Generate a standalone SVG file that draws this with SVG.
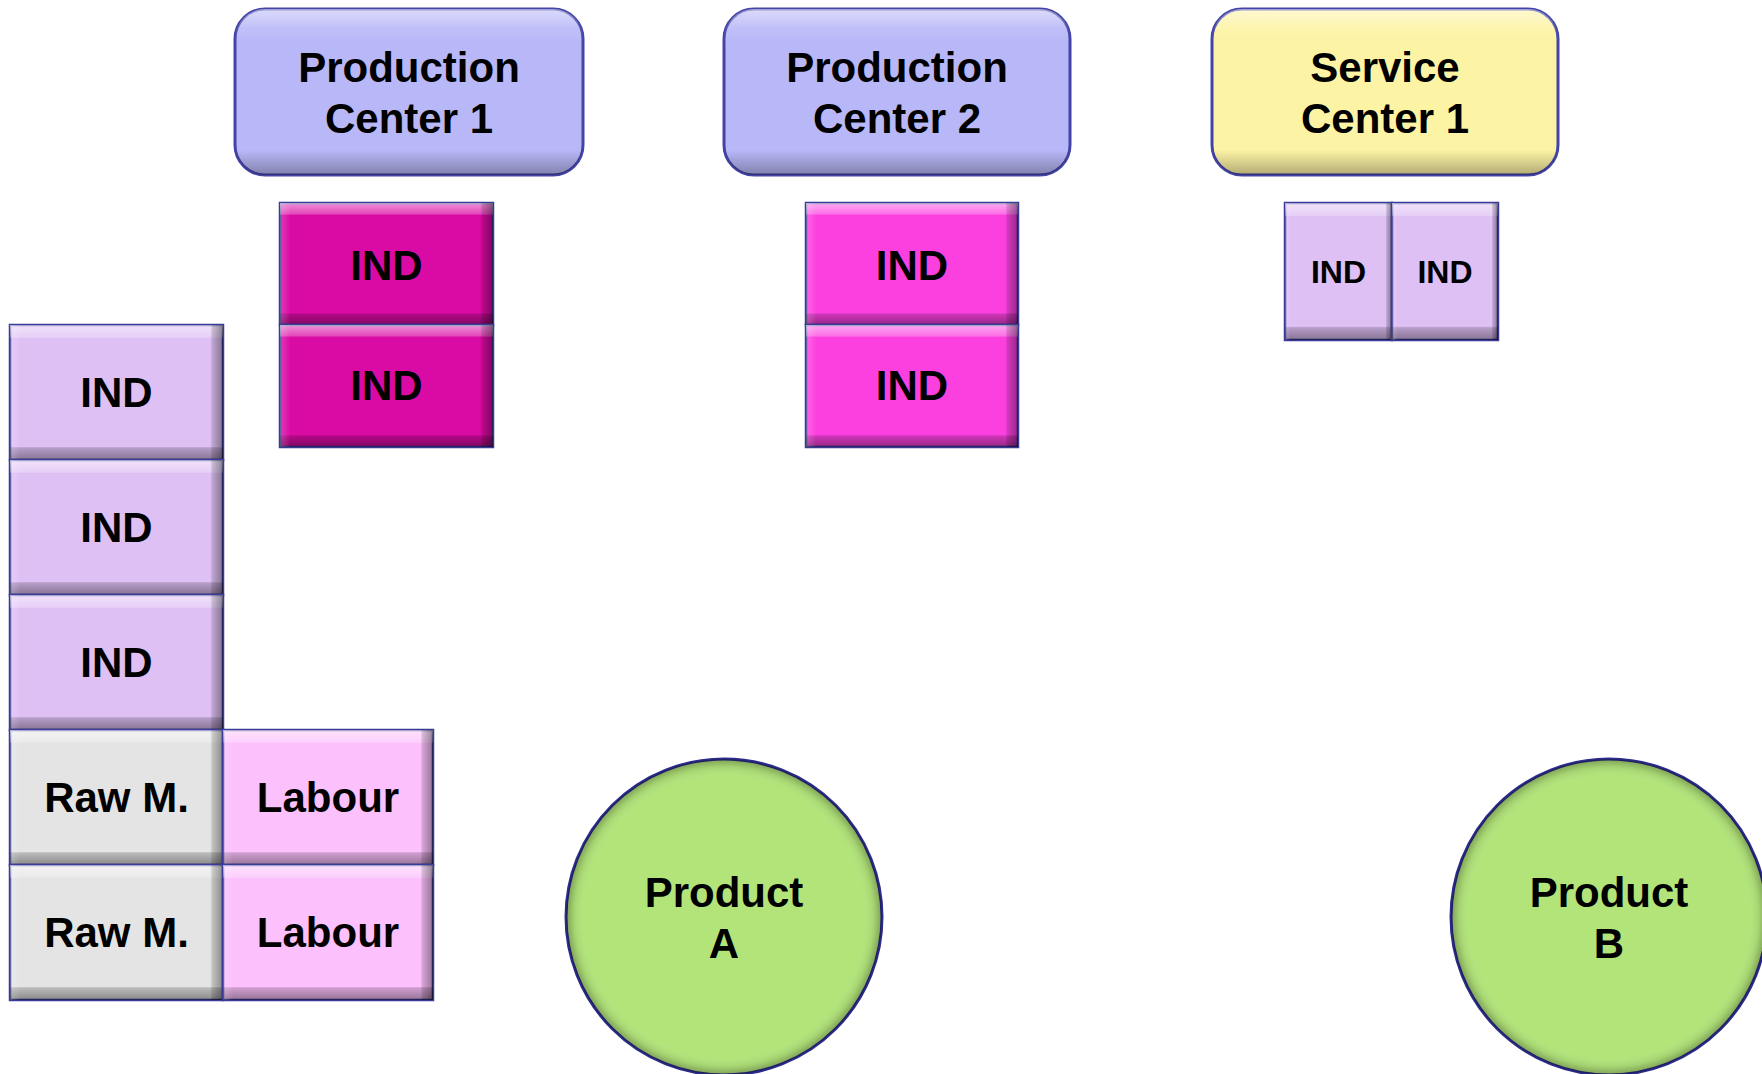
<svg xmlns="http://www.w3.org/2000/svg" width="1762" height="1074" viewBox="0 0 1762 1074">
<style>
.t{font-family:"Liberation Sans",Arial,sans-serif;font-weight:bold;fill:#000;text-anchor:middle}
.big{font-size:42px}
.sm{font-size:32px}
.box{stroke:#3a3a98;stroke-width:2.5}
.pc{fill:#b8b8f8;stroke:#4444a8;stroke-width:3}
.sc{fill:#fdf3a4;stroke:#4444a8;stroke-width:3}
.prod{fill:#b2e47a;stroke:#2c2c8c;stroke-width:3}
.v{fill:url(#gv)}
.h{fill:url(#gh)}
</style>
<defs>
<linearGradient id="gv" x1="0" y1="0" x2="0" y2="1">
<stop offset="0" stop-color="#fff" stop-opacity="0.55"/>
<stop offset="0.09" stop-color="#fff" stop-opacity="0.25"/>
<stop offset="0.1" stop-color="#fff" stop-opacity="0"/>
<stop offset="0.9" stop-color="#000" stop-opacity="0"/>
<stop offset="0.91" stop-color="#000" stop-opacity="0.18"/>
<stop offset="1" stop-color="#000" stop-opacity="0.4"/>
</linearGradient>
<linearGradient id="gh" x1="0" y1="0" x2="1" y2="0">
<stop offset="0" stop-color="#fff" stop-opacity="0.2"/>
<stop offset="0.05" stop-color="#fff" stop-opacity="0"/>
<stop offset="0.94" stop-color="#000" stop-opacity="0"/>
<stop offset="0.95" stop-color="#000" stop-opacity="0.15"/>
<stop offset="1" stop-color="#000" stop-opacity="0.4"/>
</linearGradient>
<linearGradient id="gr" x1="0" y1="0" x2="0" y2="1">
<stop offset="0" stop-color="#fff" stop-opacity="0.5"/>
<stop offset="0.12" stop-color="#fff" stop-opacity="0.1"/>
<stop offset="0.2" stop-color="#fff" stop-opacity="0"/>
<stop offset="0.85" stop-color="#000" stop-opacity="0"/>
<stop offset="1" stop-color="#000" stop-opacity="0.3"/>
</linearGradient>
<radialGradient id="gc" cx="0.5" cy="0.5" r="0.5">
<stop offset="0" stop-color="#fff" stop-opacity="0"/>
<stop offset="0.88" stop-color="#fff" stop-opacity="0"/>
<stop offset="0.95" stop-color="#000" stop-opacity="0.08"/>
<stop offset="1" stop-color="#000" stop-opacity="0.3"/>
</radialGradient>
</defs>

<g id="connectors"></g>

<g id="pc1">
<rect class="pc" x="235" y="9" width="348" height="166" rx="30"/>
<rect x="235" y="9" width="348" height="166" rx="30" fill="url(#gr)"/>
<text class="t big" x="409" y="82">Production</text>
<text class="t big" x="409" y="133">Center 1</text>
</g>
<g id="pc2">
<rect class="pc" x="724" y="9" width="346" height="166" rx="30"/>
<rect x="724" y="9" width="346" height="166" rx="30" fill="url(#gr)"/>
<text class="t big" x="897" y="82">Production</text>
<text class="t big" x="897" y="133">Center 2</text>
</g>
<g id="sc1">
<rect class="sc" x="1212" y="9" width="346" height="166" rx="30"/>
<rect x="1212" y="9" width="346" height="166" rx="30" fill="url(#gr)"/>
<text class="t big" x="1385" y="82">Service</text>
<text class="t big" x="1385" y="133">Center 1</text>
</g>

<g id="pc1-ind1">
<rect class="box" x="280" y="203" width="213" height="122" fill="#da0aa4"/>
<rect class="v" x="280" y="203" width="213" height="122"/><rect class="h" x="280" y="203" width="213" height="122"/>
<text class="t big" x="386.5" y="280">IND</text>
</g>
<g id="pc1-ind2">
<rect class="box" x="280" y="325" width="213" height="122" fill="#da0aa4"/>
<rect class="v" x="280" y="325" width="213" height="122"/><rect class="h" x="280" y="325" width="213" height="122"/>
<text class="t big" x="386.5" y="400">IND</text>
</g>
<g id="pc2-ind1">
<rect class="box" x="806" y="203" width="212" height="122" fill="#fc40e0"/>
<rect class="v" x="806" y="203" width="212" height="122"/><rect class="h" x="806" y="203" width="212" height="122"/>
<text class="t big" x="912" y="280">IND</text>
</g>
<g id="pc2-ind2">
<rect class="box" x="806" y="325" width="212" height="122" fill="#fc40e0"/>
<rect class="v" x="806" y="325" width="212" height="122"/><rect class="h" x="806" y="325" width="212" height="122"/>
<text class="t big" x="912" y="400">IND</text>
</g>
<g id="sc1-ind1">
<rect class="box" x="1285" y="203" width="107" height="137" fill="#dfc0f5"/>
<rect class="v" x="1285" y="203" width="107" height="137"/><rect class="h" x="1285" y="203" width="107" height="137"/>
<text class="t sm" x="1338.5" y="283">IND</text>
</g>
<g id="sc1-ind2">
<rect class="box" x="1392" y="203" width="106" height="137" fill="#dfc0f5"/>
<rect class="v" x="1392" y="203" width="106" height="137"/><rect class="h" x="1392" y="203" width="106" height="137"/>
<text class="t sm" x="1445" y="283">IND</text>
</g>

<g id="left-ind1">
<rect class="box" x="10" y="325" width="213" height="135" fill="#dfc0f5"/>
<rect class="v" x="10" y="325" width="213" height="135"/><rect class="h" x="10" y="325" width="213" height="135"/>
<text class="t big" x="116.5" y="407">IND</text>
</g>
<g id="left-ind2">
<rect class="box" x="10" y="460" width="213" height="135" fill="#dfc0f5"/>
<rect class="v" x="10" y="460" width="213" height="135"/><rect class="h" x="10" y="460" width="213" height="135"/>
<text class="t big" x="116.5" y="542">IND</text>
</g>
<g id="left-ind3">
<rect class="box" x="10" y="595" width="213" height="135" fill="#dfc0f5"/>
<rect class="v" x="10" y="595" width="213" height="135"/><rect class="h" x="10" y="595" width="213" height="135"/>
<text class="t big" x="116.5" y="677">IND</text>
</g>
<g id="raw1">
<rect class="box" x="10" y="730" width="213" height="135" fill="#e4e4e4"/>
<rect class="v" x="10" y="730" width="213" height="135"/><rect class="h" x="10" y="730" width="213" height="135"/>
<text class="t big" x="116.5" y="812">Raw M.</text>
</g>
<g id="raw2">
<rect class="box" x="10" y="865" width="213" height="135" fill="#e4e4e4"/>
<rect class="v" x="10" y="865" width="213" height="135"/><rect class="h" x="10" y="865" width="213" height="135"/>
<text class="t big" x="116.5" y="947">Raw M.</text>
</g>
<g id="labour1">
<rect class="box" x="223" y="730" width="210" height="135" fill="#fcc0fc"/>
<rect class="v" x="223" y="730" width="210" height="135"/><rect class="h" x="223" y="730" width="210" height="135"/>
<text class="t big" x="328" y="812">Labour</text>
</g>
<g id="labour2">
<rect class="box" x="223" y="865" width="210" height="135" fill="#fcc0fc"/>
<rect class="v" x="223" y="865" width="210" height="135"/><rect class="h" x="223" y="865" width="210" height="135"/>
<text class="t big" x="328" y="947">Labour</text>
</g>

<g id="productA">
<circle class="prod" cx="724" cy="917" r="158"/>
<circle cx="724" cy="917" r="158" fill="url(#gc)"/>
<text class="t big" x="724" y="907">Product</text>
<text class="t big" x="724" y="958">A</text>
</g>
<g id="productB">
<circle class="prod" cx="1609" cy="917" r="158"/>
<circle cx="1609" cy="917" r="158" fill="url(#gc)"/>
<text class="t big" x="1609" y="907">Product</text>
<text class="t big" x="1609" y="958">B</text>
</g>
</svg>
